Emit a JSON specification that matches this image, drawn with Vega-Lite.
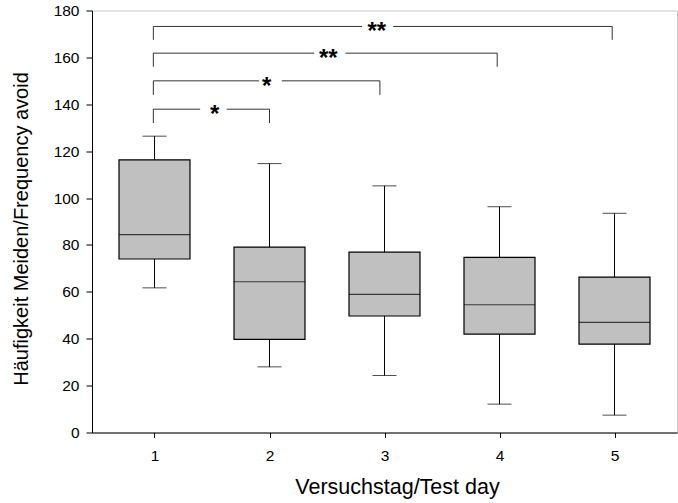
{
  "$schema": "https://vega.github.io/schema/vega-lite/v6.json",
  "width": 585,
  "height": 422,
  "autosize": {"type": "none"},
  "padding": {"left": 92, "top": 10.5, "right": 1, "bottom": 70.5},
  "background": "white",
  "config": {
    "font": "Liberation Sans",
    "view": {"stroke": "#c8c8c8", "strokeWidth": 1},
    "axis": {
      "domainColor": "black",
      "tickColor": "black",
      "labelColor": "black",
      "titleColor": "black",
      "labelFont": "Liberation Sans",
      "titleFont": "Liberation Sans",
      "labelFontSize": 15.5,
      "titleFontWeight": "normal",
      "grid": false,
      "domainWidth": 1,
      "tickWidth": 1
    }
  },
  "datasets": {
    "boxes": [
      {"day": 1, "min": 61.7, "q1": 74.0, "median": 84.4, "q3": 116.3, "max": 126.4},
      {"day": 2, "min": 28.0, "q1": 39.7, "median": 64.3, "q3": 79.1, "max": 114.7},
      {"day": 3, "min": 24.3, "q1": 49.7, "median": 58.9, "q3": 76.9, "max": 105.2},
      {"day": 4, "min": 12.1, "q1": 42.0, "median": 54.5, "q3": 74.7, "max": 96.3},
      {"day": 5, "min": 7.4, "q1": 37.7, "median": 47.0, "q3": 66.3, "max": 93.5}
    ],
    "hseg": [
      {"x": 0.99, "x2": 1.397, "y": 137.9},
      {"x": 1.628, "x2": 2.0, "y": 137.9},
      {"x": 0.99, "x2": 1.908, "y": 150.0},
      {"x": 2.107, "x2": 2.96, "y": 150.0},
      {"x": 0.99, "x2": 2.389, "y": 161.8},
      {"x": 2.662, "x2": 3.98, "y": 161.8},
      {"x": 0.99, "x2": 2.805, "y": 173.2},
      {"x": 3.075, "x2": 4.98, "y": 173.2}
    ],
    "vseg": [
      {"x": 0.99, "y": 137.9, "y2": 132.0},
      {"x": 2.0, "y": 137.9, "y2": 132.0},
      {"x": 0.99, "y": 150.0, "y2": 144.0},
      {"x": 2.96, "y": 150.0, "y2": 144.0},
      {"x": 0.99, "y": 161.8, "y2": 156.0},
      {"x": 3.98, "y": 161.8, "y2": 156.0},
      {"x": 0.99, "y": 173.2, "y2": 167.5},
      {"x": 4.98, "y": 173.2, "y2": 167.5}
    ],
    "stars": [
      {"x": 1.523, "y": 137.9, "label": "*"},
      {"x": 1.976, "y": 150.0, "label": "*"},
      {"x": 2.511, "y": 161.8, "label": "**"},
      {"x": 2.933, "y": 173.2, "label": "**"}
    ]
  },
  "layer": [
    {
      "data": {"name": "boxes"},
      "mark": {"type": "rule", "color": "black", "strokeWidth": 1},
      "encoding": {
        "x": {
          "field": "day", "type": "quantitative",
          "scale": {"domain": [0.5, 5.5], "nice": false, "zero": false},
          "title": "Versuchstag/Test day",
          "axis": {"values": [1, 2, 3, 4, 5], "format": "d", "tickSize": 5, "labelPadding": 11, "titlePadding": 12, "titleFontSize": 21.5, "titleX": 305, "titleAnchor": "middle"}
        },
        "y": {
          "field": "min", "type": "quantitative",
          "scale": {"domain": [0, 180], "nice": false, "zero": false},
          "title": "Häufigkeit Meiden/Frequency avoid",
          "axis": {"values": [0, 20, 40, 60, 80, 100, 120, 140, 160, 180], "tickSize": 6, "labelPadding": 7, "titlePadding": 22, "titleFontSize": 20, "titleY": 218}
        },
        "y2": {"field": "q1"}
      }
    },
    {
      "data": {"name": "boxes"},
      "mark": {"type": "rule", "color": "black", "strokeWidth": 1},
      "encoding": {
        "x": {"field": "day", "type": "quantitative", "title": "Versuchstag/Test day"},
        "y": {"field": "q3", "type": "quantitative", "title": "Häufigkeit Meiden/Frequency avoid"},
        "y2": {"field": "max"}
      }
    },
    {
      "data": {"name": "boxes"},
      "mark": {"type": "tick", "orient": "horizontal", "size": 24, "thickness": 1, "color": "black"},
      "encoding": {
        "x": {"field": "day", "type": "quantitative", "title": "Versuchstag/Test day"},
        "y": {"field": "min", "type": "quantitative", "title": "Häufigkeit Meiden/Frequency avoid"}
      }
    },
    {
      "data": {"name": "boxes"},
      "mark": {"type": "tick", "orient": "horizontal", "size": 24, "thickness": 1, "color": "black"},
      "encoding": {
        "x": {"field": "day", "type": "quantitative", "title": "Versuchstag/Test day"},
        "y": {"field": "max", "type": "quantitative", "title": "Häufigkeit Meiden/Frequency avoid"}
      }
    },
    {
      "data": {"name": "boxes"},
      "mark": {"type": "bar", "size": 71, "fill": "#c0c0c0", "stroke": "black", "strokeWidth": 1.2},
      "encoding": {
        "x": {"field": "day", "type": "quantitative", "title": "Versuchstag/Test day"},
        "y": {"field": "q1", "type": "quantitative", "title": "Häufigkeit Meiden/Frequency avoid"},
        "y2": {"field": "q3"}
      }
    },
    {
      "data": {"name": "boxes"},
      "mark": {"type": "tick", "orient": "horizontal", "size": 71, "thickness": 1.2, "color": "black"},
      "encoding": {
        "x": {"field": "day", "type": "quantitative", "title": "Versuchstag/Test day"},
        "y": {"field": "median", "type": "quantitative", "title": "Häufigkeit Meiden/Frequency avoid"}
      }
    },
    {
      "data": {"name": "hseg"},
      "mark": {"type": "rule", "color": "#333333", "strokeWidth": 1},
      "encoding": {
        "x": {"field": "x", "type": "quantitative", "title": "Versuchstag/Test day"},
        "x2": {"field": "x2"},
        "y": {"field": "y", "type": "quantitative", "title": "Häufigkeit Meiden/Frequency avoid"}
      }
    },
    {
      "data": {"name": "vseg"},
      "mark": {"type": "rule", "color": "#333333", "strokeWidth": 1},
      "encoding": {
        "x": {"field": "x", "type": "quantitative", "title": "Versuchstag/Test day"},
        "y": {"field": "y", "type": "quantitative", "title": "Häufigkeit Meiden/Frequency avoid"},
        "y2": {"field": "y2"}
      }
    },
    {
      "data": {"name": "stars"},
      "mark": {"type": "text", "font": "Liberation Sans", "fontSize": 24, "fontWeight": "bold", "baseline": "alphabetic", "dy": 13, "align": "center", "color": "black"},
      "encoding": {
        "x": {"field": "x", "type": "quantitative", "title": "Versuchstag/Test day"},
        "y": {"field": "y", "type": "quantitative", "title": "Häufigkeit Meiden/Frequency avoid"},
        "text": {"field": "label"}
      }
    },
    {
      "mark": {"type": "rule", "color": "#666666", "strokeWidth": 1.5},
      "encoding": {
        "y": {"datum": 180}
      }
    }
  ]
}
